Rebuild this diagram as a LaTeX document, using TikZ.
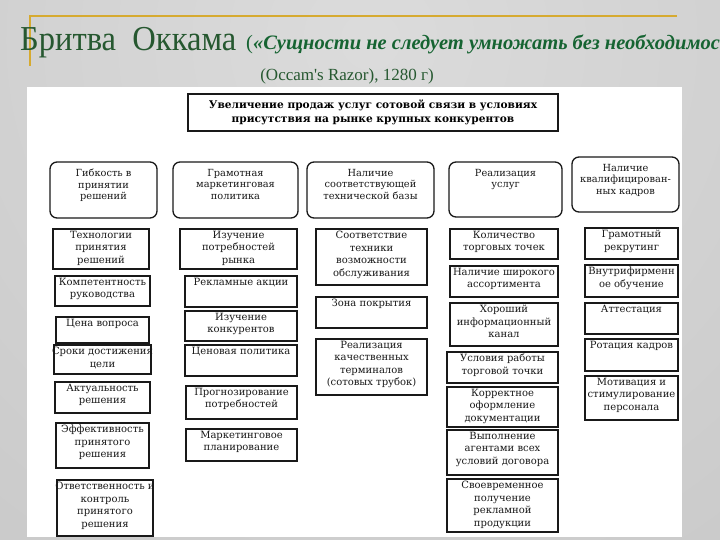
\documentclass[tikz,border=0pt]{standalone}
\usepackage{fontspec}
\usepackage{graphicx}
\setmainfont{DejaVu Serif}
\newfontfamily\ttlfont{Liberation Serif}
\definecolor{goldline}{RGB}{214,170,48}
\definecolor{ttlgreen}{RGB}{38,88,48}
\definecolor{itgreen}{RGB}{22,100,50}
\tikzset{
 cbox/.style={draw=black!90, line width=1.1pt, inner sep=0pt, fill=white},
 hbox/.style={cbox, rounded corners=7pt, line width=1.3pt},
 ctext/.style={inner sep=0pt, align=center, yshift=-2.5pt, font=\fontsize{10}{12.5}\selectfont, text=black!90},
 htext/.style={inner sep=0pt, align=center, yshift=-7.5pt, font=\fontsize{9.8}{11.5}\selectfont, text=black!90},
}
\newcommand\anybox[8]{%
 \node[#1, minimum width={(#6-#4)*1pt}, minimum height={(#7-#5)*1pt}] (#3) at ({(#4+#6)/2},{(#5+#7)/2}) {};
 \node[#2, anchor=north] (#3t) at (#3.north) {#8};}
\begin{document}
\begin{tikzpicture}[x=1pt,y=-1pt]
\useasboundingbox (0,0) rectangle (720,540);
% background
\begin{scope}
 \clip (0,0) rectangle (720,540);
 \shade[inner color=gray!28, outer color=gray!47] (370,40) circle [radius=900pt];
\end{scope}
\draw[goldline, line width=2.2pt] (677,16) -- (30,16) -- (30,66);
\node[anchor=base west, inner sep=0pt, text=ttlgreen, font=\ttlfont\fontsize{35}{35}\selectfont] (title) at (20,51) {\scalebox{0.93}[1]{Бритва\ \ Оккама}};
\begin{scope}
 \clip (0,0) rectangle (720,540);
 \node[anchor=base west, inner sep=0pt, text=itgreen, font=\ttlfont\fontsize{20.5}{21}\selectfont] (motto) at (246,50) {(\textbf{\textit{«Сущности не следует умножать без необходимости»}}};
\end{scope}
\node[anchor=base, inner sep=0pt, text=ttlgreen, font=\ttlfont\fontsize{17}{17}\selectfont] (sub) at (347,81) {(Occam's Razor), 1280 г)};
% picture area
\fill[white] (27,87) rectangle (682,537);
% top box
\node[cbox, line width=1.3pt, minimum width=370pt, minimum height=37pt, align=center, font=\bfseries\fontsize{10.6}{14}\selectfont] (top) at (373,112.5) {Увеличение продаж услуг сотовой связи в условиях\\присутствия на рынке крупных конкурентов};
% headers
\anybox{hbox}{htext}{h1}{50}{162}{157}{218}{Гибкость в\\принятии\\решений}
\anybox{hbox}{htext}{h2}{173}{162}{298}{218}{Грамотная\\маркетинговая\\политика}
\anybox{hbox}{htext}{h3}{307}{162}{434}{218}{Наличие\\соответствующей\\технической базы}
\anybox{hbox}{htext}{h4}{449}{162}{562}{217}{Реализация\\услуг}
\anybox{hbox}{htext}{h5}{572}{157}{679}{212}{Наличие\\квалифицирован-\\ных кадров}
% column 1
\anybox{cbox}{ctext}{a1}{53}{229}{149}{269}{Технологии\\принятия\\решений}
\anybox{cbox}{ctext}{a2}{55}{276}{150}{306}{Компетентность\\руководства}
\anybox{cbox}{ctext}{a3}{56}{317}{149}{343}{Цена вопроса}
\anybox{cbox}{ctext}{a4}{54}{345}{151}{374}{Сроки достижения\\цели}
\anybox{cbox}{ctext}{a5}{55}{382}{150}{413}{Актуальность\\решения}
\anybox{cbox}{ctext}{a6}{56}{423}{149}{468}{Эффективность\\принятого\\решения}
\anybox{cbox}{ctext}{a7}{57}{480}{153}{536}{Ответственность и\\контроль\\принятого\\решения}
% column 2
\anybox{cbox}{ctext}{b1}{180}{229}{297}{269}{Изучение\\потребностей\\рынка}
\anybox{cbox}{ctext}{b2}{185}{276}{297}{307}{Рекламные акции}
\anybox{cbox}{ctext}{b3}{185}{311}{297}{341}{Изучение\\конкурентов}
\anybox{cbox}{ctext}{b4}{185}{345}{297}{376}{Ценовая политика}
\anybox{cbox}{ctext}{b5}{186}{386}{297}{419}{Прогнозирование\\потребностей}
\anybox{cbox}{ctext}{b6}{186}{429}{297}{461}{Маркетинговое\\планирование}
% column 3
\anybox{cbox}{ctext}{c1}{316}{229}{427}{285}{Соответствие\\техники\\возможности\\обслуживания}
\anybox{cbox}{ctext}{c2}{316}{297}{427}{328}{Зона покрытия}
\anybox{cbox}{ctext}{c3}{316}{339}{427}{395}{Реализация\\качественных\\терминалов\\(сотовых трубок)}
% column 4
\anybox{cbox}{ctext}{d1}{450}{229}{558}{259}{Количество\\торговых точек}
\anybox{cbox}{ctext}{d2}{450}{266}{558}{297}{Наличие широкого\\ассортимента}
\anybox{cbox}{ctext}{d3}{450}{303}{558}{346}{Хороший\\информационный\\канал}
\anybox{cbox}{ctext}{d4}{447}{352}{558}{383}{Условия работы\\торговой точки}
\anybox{cbox}{ctext}{d5}{447}{387}{558}{427}{Корректное\\оформление\\документации}
\anybox{cbox}{ctext}{d6}{447}{430}{558}{475}{Выполнение\\агентами всех\\условий договора}
\anybox{cbox}{ctext}{d7}{447}{479}{558}{532}{Своевременное\\получение\\рекламной\\продукции}
% column 5
\anybox{cbox}{ctext}{e1}{585}{228}{678}{259}{Грамотный\\рекрутинг}
\anybox{cbox}{ctext}{e2}{585}{265}{678}{297}{Внутрифирменн\\ое обучение}
\anybox{cbox}{ctext}{e3}{585}{303}{678}{334}{Аттестация}
\anybox{cbox}{ctext}{e4}{585}{339}{678}{371}{Ротация кадров}
\anybox{cbox}{ctext}{e5}{585}{376}{678}{420}{Мотивация и\\стимулирование\\персонала}
\end{tikzpicture}
\end{document}
